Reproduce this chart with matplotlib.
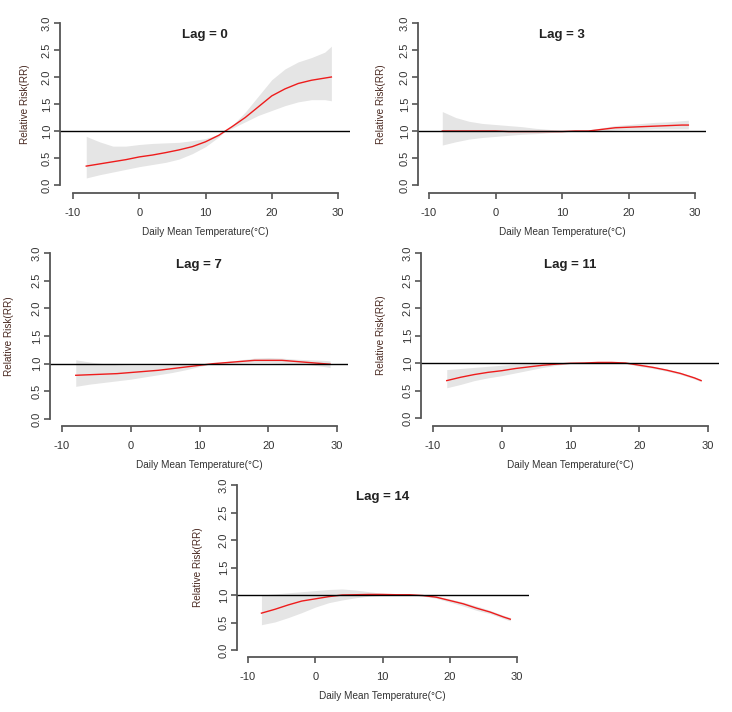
import numpy as np
import matplotlib
matplotlib.use("Agg")
import matplotlib.pyplot as plt

plt.rcParams["font.family"] = ["Liberation Sans", "DejaVu Sans"]

temp = [-8, -6, -4, -2, 0, 2, 4, 6, 8, 10, 12, 13, 14, 16, 18, 20, 22, 24, 26, 28, 29]

# Lag 0
rr_lag0 = [0.35, 0.39, 0.43, 0.47, 0.52, 0.555, 0.60, 0.65, 0.71, 0.80, 0.92, 1.00, 1.08, 1.25, 1.45, 1.65, 1.78, 1.88, 1.94, 1.98, 2.00]
hi_lag0 = [0.90, 0.80, 0.72, 0.72, 0.75, 0.77, 0.78, 0.79, 0.82, 0.86, 0.94, 1.00, 1.10, 1.35, 1.65, 1.95, 2.15, 2.28, 2.36, 2.46, 2.57]
lo_lag0 = [0.13, 0.19, 0.24, 0.29, 0.34, 0.38, 0.42, 0.48, 0.58, 0.71, 0.89, 1.00, 1.05, 1.17, 1.29, 1.38, 1.47, 1.54, 1.58, 1.58, 1.56]

# Lag 3
rr_lag3 = [1.00, 1.00, 1.00, 1.00, 1.00, 0.99, 0.99, 0.99, 0.99, 0.99, 1.00, 1.00, 1.00, 1.03, 1.06, 1.07, 1.08, 1.09, 1.10, 1.11, 1.11]
hi_lag3 = [1.36, 1.25, 1.18, 1.14, 1.12, 1.10, 1.08, 1.05, 1.03, 1.01, 1.005, 1.00, 1.02, 1.06, 1.10, 1.12, 1.14, 1.16, 1.17, 1.19, 1.20]
lo_lag3 = [0.74, 0.80, 0.85, 0.88, 0.90, 0.92, 0.94, 0.95, 0.97, 0.98, 0.995, 1.00, 0.99, 1.00, 1.02, 1.03, 1.03, 1.04, 1.04, 1.04, 1.04]

# Lag 7
rr_lag7 = [0.79, 0.80, 0.81, 0.82, 0.84, 0.86, 0.88, 0.91, 0.94, 0.97, 1.00, 1.01, 1.02, 1.04, 1.06, 1.06, 1.06, 1.04, 1.02, 1.00, 0.99]
hi_lag7 = [1.07, 1.03, 1.00, 0.98, 0.97, 0.97, 0.97, 0.98, 0.99, 0.99, 1.00, 1.02, 1.04, 1.07, 1.10, 1.11, 1.10, 1.08, 1.07, 1.06, 1.05]
lo_lag7 = [0.59, 0.63, 0.66, 0.69, 0.72, 0.76, 0.80, 0.84, 0.89, 0.95, 1.00, 1.00, 1.00, 1.01, 1.02, 1.02, 1.01, 1.00, 0.98, 0.95, 0.93]

# Lag 11
rr_lag11 = [0.68, 0.74, 0.79, 0.83, 0.86, 0.90, 0.93, 0.96, 0.98, 0.995, 1.00, 1.005, 1.01, 1.01, 1.00, 0.96, 0.92, 0.87, 0.81, 0.73, 0.68]
hi_lag11 = [0.88, 0.90, 0.92, 0.94, 0.96, 0.98, 0.99, 1.00, 1.00, 1.00, 1.00, 1.01, 1.015, 1.02, 1.01, 0.98, 0.94, 0.89, 0.83, 0.75, 0.70]
lo_lag11 = [0.55, 0.61, 0.68, 0.73, 0.77, 0.82, 0.87, 0.92, 0.96, 0.99, 1.00, 1.00, 1.005, 1.00, 0.99, 0.94, 0.90, 0.85, 0.79, 0.71, 0.66]

# Lag 14
rr_lag14 = [0.67, 0.74, 0.82, 0.89, 0.93, 0.97, 1.00, 1.005, 1.01, 1.01, 1.005, 1.005, 1.005, 0.99, 0.96, 0.90, 0.84, 0.76, 0.69, 0.60, 0.56]
hi_lag14 = [1.00, 1.02, 1.04, 1.06, 1.08, 1.10, 1.11, 1.09, 1.06, 1.03, 1.02, 1.01, 1.01, 1.00, 0.98, 0.93, 0.87, 0.80, 0.72, 0.63, 0.59]
lo_lag14 = [0.46, 0.51, 0.59, 0.68, 0.78, 0.86, 0.91, 0.95, 0.98, 0.995, 1.00, 1.00, 0.995, 0.98, 0.94, 0.87, 0.80, 0.72, 0.66, 0.57, 0.53]

lags = ["0", "3", "7", "11", "14"]
rr_all = [rr_lag0, rr_lag3, rr_lag7, rr_lag11, rr_lag14]
hi_all = [hi_lag0, hi_lag3, hi_lag7, hi_lag11, hi_lag14]
lo_all = [lo_lag0, lo_lag3, lo_lag7, lo_lag11, lo_lag14]

x_ticks = [-10, 0, 10, 20, 30]
y_ticks = [0.0, 0.5, 1.0, 1.5, 2.0, 2.5, 3.0]

W, H = 732, 712
# panel layout in pixels: left, right, x-axis row, y=0 row, y=3 row, x=-10 col, x=30 col, ylabel col
panels = [
    (60, 350, 193, 185, 23, 73, 338, 25),
    (418, 706, 193, 185, 23, 429, 695, 381),
    (50, 348, 426, 419, 253, 62, 337, 9),
    (421, 719, 426, 418, 253, 433, 708, 381),
    (237, 529, 657, 650, 485, 248, 517, 198),
]

fig = plt.figure(figsize=(W / 100, H / 100), dpi=100)
axis_grey = "#555555"
text_grey = "#333333"

for i, (L, R, B, y0, y3, xm10, x30, ylx) in enumerate(panels):
    s = (y0 - y3) / 3.0
    T = y3 - 0.12 * s
    sx = (x30 - xm10) / 40.0
    ax = fig.add_axes([L / W, 1 - B / H, (R - L) / W, (B - T) / H])
    ax.set_xlim(-10 - (xm10 - L) / sx, 30 + (R - x30) / sx)
    ax.set_ylim(-(B - y0) / s, 3 + (y3 - T) / s)

    # confidence band, estimate, reference line at RR = 1
    ax.fill_between(temp, lo_all[i], hi_all[i], color="#e5e5e5", linewidth=0)
    ax.plot(temp, rr_all[i], color="#ee1c1c", linewidth=1.0)
    ax.axhline(1.0, color="black", linewidth=1.0)

    for side in ["top", "right"]:
        ax.spines[side].set_visible(False)
    ax.spines["left"].set_bounds(0, 3)
    ax.spines["bottom"].set_bounds(-10, 30)
    for side in ["left", "bottom"]:
        ax.spines[side].set_color(axis_grey)
        ax.spines[side].set_linewidth(1.3)

    ax.set_xticks(x_ticks)
    ax.set_xticklabels([str(v) for v in x_ticks])
    ax.set_yticks(y_ticks)
    ax.set_yticklabels([f"{v:.1f}" for v in y_ticks], rotation=90, va="center")
    ax.tick_params(axis="x", direction="out", length=4, width=1.2, color=axis_grey,
                   labelsize=8, labelcolor=text_grey, pad=6.5)
    ax.tick_params(axis="y", direction="out", length=4, width=1.2, color=axis_grey,
                   labelsize=8, labelcolor=text_grey, pad=2)

    title_y = 1 - ((y3 + 12) - T) / (B - T)
    ax.text(0.5, title_y, f"Lag = {lags[i]}", transform=ax.transAxes, ha="center", va="center",
            fontsize=9.5, fontweight="bold", color="#222222")

    fig.text(((xm10 + x30) / 2) / W, 1 - (B + 39) / H, "Daily Mean Temperature(\u00b0C)",
             ha="center", va="center", fontsize=7.2, color=text_grey)
    fig.text(ylx / W, 1 - ((y0 + y3) / 2) / H, "Relative Risk(RR)", rotation=90,
             ha="center", va="center", fontsize=7.2, color="#4a2a22")

fig.savefig("out.png", dpi=100, facecolor="white")
